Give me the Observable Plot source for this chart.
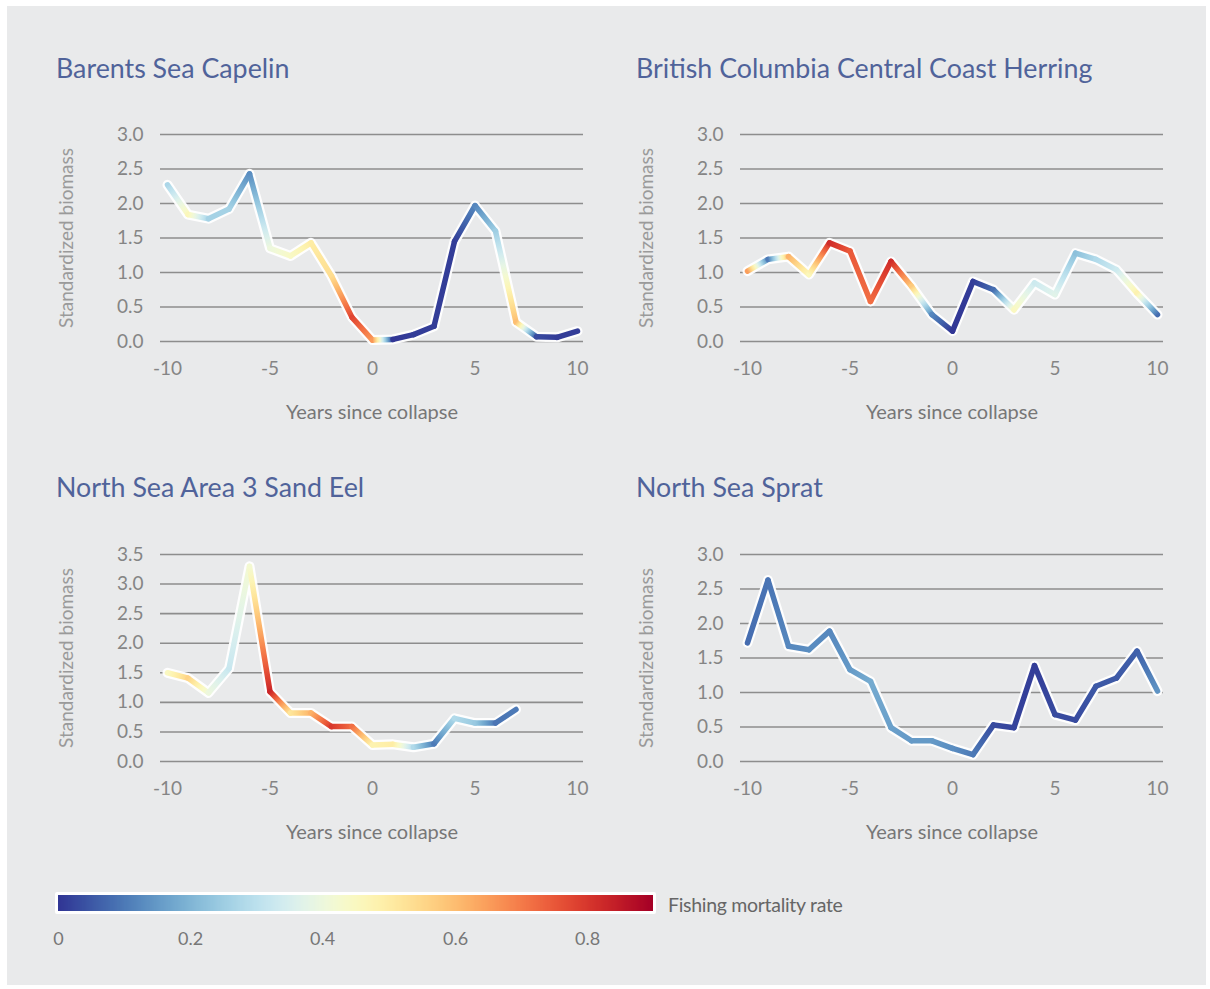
<!DOCTYPE html>
<html><head><meta charset="utf-8">
<script src="https://cdn.jsdelivr.net/npm/d3@7"></script>
<script src="https://cdn.jsdelivr.net/npm/@observablehq/plot@0.6"></script>
<style>
html,body{margin:0;padding:0;background:#fff;width:1210px;height:989px;overflow:hidden;font-family:Lato,"Open Sans",sans-serif}
#bg{position:absolute;left:7px;top:6px;width:1199px;height:979px;background:#e9eaeb}
.title{position:absolute;font-size:26.8px;color:#50639a;white-space:nowrap;line-height:30px}
.panel{position:absolute}
#legendLabel{position:absolute;left:668px;top:893px;font-size:19.5px;color:#666;line-height:24px;white-space:nowrap;letter-spacing:-0.3px}
</style></head><body>
<div id="bg"></div>
<div class="title" style="left:56px;top:53px">Barents Sea Capelin</div>
<div class="title" style="left:636px;top:53px">British Columbia Central Coast Herring</div>
<div class="title" style="left:56px;top:472px">North Sea Area 3 Sand Eel</div>
<div class="title" style="left:636px;top:472px">North Sea Sprat</div>
<div id="p1" class="panel" style="left:20px;top:110px"></div>
<div id="p2" class="panel" style="left:600px;top:110px"></div>
<div id="p3" class="panel" style="left:20px;top:530px"></div>
<div id="p4" class="panel" style="left:600px;top:530px"></div>
<div id="legend" class="panel" style="left:48px;top:890px"></div>
<div id="legendLabel">Fishing mortality rate</div>
<script>
// ---- data ----
const years21 = [-10,-9,-8,-7,-6,-5,-4,-3,-2,-1,0,1,2,3,4,5,6,7,8,9,10];
const years18 = [-10,-9,-8,-7,-6,-5,-4,-3,-2,-1,0,1,2,3,4,5,6,7];

const capelinBiomass   = [2.27,1.84,1.78,1.92,2.43,1.35,1.24,1.43,0.95,0.35,0.02,0.03,0.10,0.22,1.45,1.97,1.60,0.28,0.07,0.06,0.15];
const capelinMortality = [0.27,0.46,0.26,0.26,0.13,0.40,0.44,0.50,0.54,0.78,0.66,0.00,0.01,0.01,0.01,0.12,0.25,0.60,0.03,0.01,0.01];

const herringBiomass   = [1.02,1.19,1.23,0.97,1.43,1.31,0.58,1.16,0.80,0.39,0.15,0.87,0.75,0.46,0.85,0.68,1.28,1.19,1.04,0.70,0.39];
const herringMortality = [0.65,0.10,0.62,0.46,0.82,0.75,0.72,0.82,0.58,0.12,0.00,0.01,0.08,0.45,0.33,0.37,0.22,0.28,0.33,0.48,0.08];

const sandEelBiomass   = [1.50,1.41,1.16,1.57,3.30,1.18,0.82,0.82,0.59,0.59,0.28,0.29,0.24,0.30,0.73,0.65,0.65,0.88];
const sandEelMortality = [0.45,0.56,0.40,0.32,0.42,0.83,0.52,0.62,0.80,0.72,0.48,0.50,0.28,0.10,0.28,0.24,0.09,0.10];

const spratBiomass     = [1.72,2.63,1.67,1.62,1.89,1.33,1.16,0.49,0.30,0.30,0.19,0.10,0.53,0.49,1.39,0.68,0.60,1.09,1.21,1.60,1.02];
const spratMortality   = [0.08,0.09,0.12,0.13,0.12,0.15,0.18,0.16,0.15,0.15,0.13,0.10,0.03,0.02,0.01,0.03,0.03,0.05,0.05,0.06,0.14];

const xTicks = [-10,-5,0,5,10];
const yTicks3 = [0,0.5,1,1.5,2,2.5,3];
const yTicks35 = [0,0.5,1,1.5,2,2.5,3,3.5];
const legendTicks = [0,0.2,0.4,0.6,0.8];
const mortalityDomain = [0,0.9];

// ---- shared color scale ----
const colorOpts = {type:"linear", domain:mortalityDomain, scheme:"RdYlBu", reverse:true};
const color = Plot.scale({color: colorOpts});

const NS = "http://www.w3.org/2000/svg";

function panel(el, id, years, biomass, mortality, yTicks) {
  const pts = years.map((x,i)=>({x, y: biomass[i], f: mortality[i]}));
  const segs = d3.pairs(pts).map(([a,b])=>({x1:a.x, y1:a.y, x2:b.x, y2:b.y, f1:a.f, f2:b.f}));
  const chart = Plot.plot({
    width: 580, height: 330,
    marginLeft: 140, marginRight: 17, marginTop: 24, marginBottom: 99,
    x: {domain:[-10,10], insetLeft:7, insetRight:6},
    y: {domain:[0, yTicks[yTicks.length-1]]},
    style: {background:"transparent", fontFamily:"Lato, sans-serif", fontSize:"19px", color:"#858585", overflow:"visible"},
    marks: [
      Plot.ruleY(yTicks, {stroke:"#8d8d8d", strokeWidth:1.6}),
      Plot.axisX(xTicks, {tickSize:0, tickPadding:20, label:null, tickFormat: d=>String(d)}),
      Plot.axisY(yTicks, {tickSize:0, tickPadding:17, label:null, tickFormat: d3.format(".1f")}),
      Plot.text(["Years since collapse"], {text:d=>d, frameAnchor:"bottom", lineAnchor:"middle", textAnchor:"middle", dy:71, fill:"#777", fontSize:20}),
      Plot.text(["Standardized biomass"], {text:d=>d, frameAnchor:"left", lineAnchor:"middle", textAnchor:"middle", dx:-94, rotate:-90, fill:"#9a9a9a", fontSize:19}),
      Plot.line(pts, {x:"x", y:"y", stroke:"white", strokeWidth:10, strokeLinejoin:"round", strokeLinecap:"round", strokeOpacity:0.95}),
      Plot.link(segs, {x1:"x1", y1:"y1", x2:"x2", y2:"y2", stroke:"#888", strokeWidth:5.5, strokeLinecap:"round"})
    ]
  });
  const sx = chart.scale("x"), sy = chart.scale("y");
  const defs = document.createElementNS(NS, "defs");
  segs.forEach((s,i)=>{
    const g = document.createElementNS(NS, "linearGradient");
    g.setAttribute("id", `${id}-g${i}`);
    g.setAttribute("gradientUnits", "userSpaceOnUse");
    g.setAttribute("x1", sx.apply(s.x1)); g.setAttribute("y1", sy.apply(s.y1));
    g.setAttribute("x2", sx.apply(s.x2)); g.setAttribute("y2", sy.apply(s.y2));
    const n = 8;
    for (let k=0;k<=n;k++){
      const t = k/n;
      const st = document.createElementNS(NS, "stop");
      st.setAttribute("offset", t);
      st.setAttribute("stop-color", color.apply(s.f1 + (s.f2 - s.f1)*t));
      g.appendChild(st);
    }
    defs.appendChild(g);
  });
  chart.insertBefore(defs, chart.firstChild);
  chart.querySelectorAll('g[aria-label="link"] path').forEach((p,i)=>p.setAttribute("stroke", `url(#${id}-g${i})`));
  el.appendChild(chart);
}

panel(document.getElementById("p1"), "cap", years21, capelinBiomass, capelinMortality, yTicks3);
panel(document.getElementById("p2"), "her", years21, herringBiomass, herringMortality, yTicks3);
panel(document.getElementById("p3"), "eel", years18, sandEelBiomass, sandEelMortality, yTicks35);
panel(document.getElementById("p4"), "spr", years21, spratBiomass, spratMortality, yTicks3);

// ---- legend ----
const leg = Plot.legend({
  color: colorOpts,
  label: null,
  width: 615, height: 60,
  marginLeft: 10, marginRight: 10, marginTop: 5, marginBottom: 39,
  ticks: legendTicks, tickSize: 18,
  tickFormat: d => d === 0 ? "0" : d.toFixed(1),
  style: {background:"transparent", fontFamily:"Lato, sans-serif", fontSize:"18px", color:"#777", overflow:"visible"}
});
leg.querySelectorAll("line").forEach(l=>l.remove());
const img = leg.querySelector("image");
if (img) {
  const r = document.createElementNS(NS, "rect");
  r.setAttribute("x", 7); r.setAttribute("y", 2);
  r.setAttribute("width", 601); r.setAttribute("height", 22);
  r.setAttribute("fill", "white"); r.setAttribute("rx", 2);
  img.parentNode.insertBefore(r, img);
}
document.getElementById("legend").appendChild(leg);
</script>
</body></html>
